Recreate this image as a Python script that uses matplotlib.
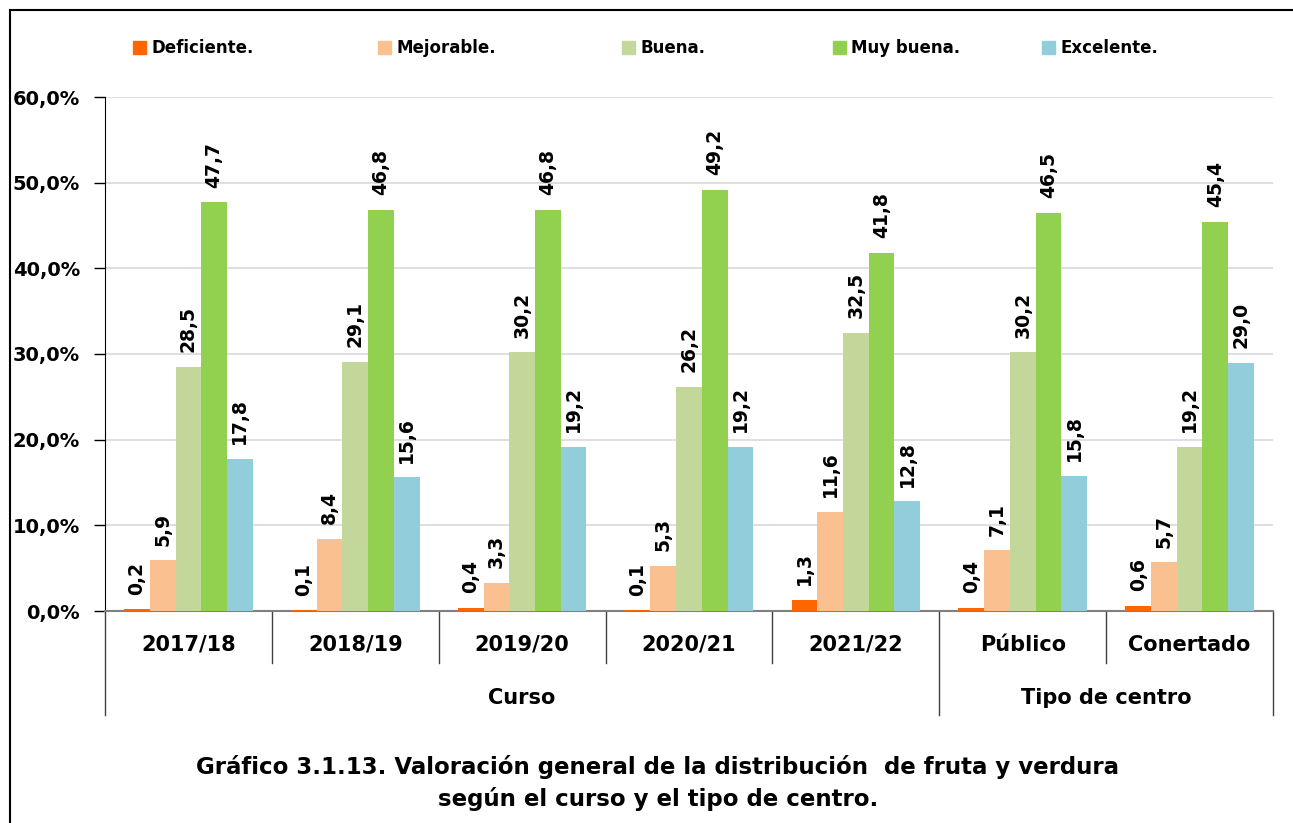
import numpy as np
import matplotlib; matplotlib.use("Agg")
import matplotlib.pyplot as plt
from matplotlib.lines import Line2D
from matplotlib.patches import Patch

categorias = ["2017/18", "2018/19", "2019/20", "2020/21", "2021/22", "Público", "Conertado"]
grupos = ["Curso", "Tipo de centro"]
series = ["Deficiente.", "Mejorable.", "Buena.", "Muy buena.", "Excelente."]
deficiente = [0.2, 0.1, 0.4, 0.1, 1.3, 0.4, 0.6]
mejorable = [5.9, 8.4, 3.3, 5.3, 11.6, 7.1, 5.7]
buena = [28.5, 29.1, 30.2, 26.2, 32.5, 30.2, 19.2]
muy_buena = [47.7, 46.8, 46.8, 49.2, 41.8, 46.5, 45.4]
excelente = [17.8, 15.6, 19.2, 19.2, 12.8, 15.8, 29.0]
yticks = [0, 10, 20, 30, 40, 50, 60]
titulo = ("Gráfico 3.1.13. Valoración general de la distribución  de fruta y verdura\n"
          "según el curso y el tipo de centro.")

colores = ["#FF6600", "#FAC090", "#C4D79B", "#92D050", "#92CDDC"]
valores = [deficiente, mejorable, buena, muy_buena, excelente]
ley_x = [133, 378, 622, 833, 1042]   # px, left edge of each legend square

fig = plt.figure(figsize=(12.93, 8.23), dpi=100)
ax = fig.add_axes([105 / 1293, 1 - 611 / 823, (1273 - 105) / 1293, (611 - 97) / 823])

x = np.arange(len(categorias))
w = 0.154
for i, (nom, vals, c) in enumerate(zip(series, valores, colores)):
    bars = ax.bar(x + (i - 2) * w, vals, w, color=c, label=nom, zorder=3)
    for b, v in zip(bars, vals):
        ax.annotate(f"{v:.1f}".replace(".", ","), (b.get_x() + b.get_width() / 2, v),
                    xytext=(0, 10.5), textcoords="offset points", rotation=90,
                    ha="center", va="bottom", fontsize=13.5, fontweight="bold")

ax.set_xlim(-0.5, len(categorias) - 0.5)
ax.set_ylim(0, 60)
ax.set_yticks(yticks)
ax.set_yticklabels([f"{t:.1f}".replace(".", ",") + "%" for t in yticks], fontsize=14, fontweight="bold")
ax.tick_params(axis="y", direction="out", length=8, width=1, pad=10)
ax.set_xticks([])
ax.grid(axis="y", color="#D9D9D9", lw=1.2, zorder=0)
for s in ["top", "right"]:
    ax.spines[s].set_visible(False)
ax.spines["left"].set_color("black")
ax.spines["bottom"].set_color("#808080")
ax.spines["bottom"].set_linewidth(1.5)

tr = ax.get_xaxis_transform()
for b in np.arange(-0.5, len(categorias)):
    largo = b in (-0.5, 4.5, 6.5)
    ax.plot([b, b], [0, -0.202 if largo else -0.101], transform=tr, color="#404040",
            lw=1, clip_on=False)
for xi, cat in zip(x, categorias):
    ax.text(xi, -0.066, cat, transform=tr, ha="center", va="center",
            fontsize=15, fontweight="bold")
ax.text(2, -0.169, grupos[0], transform=tr, ha="center", va="center",
        fontsize=15, fontweight="bold")
ax.text(5.5, -0.169, grupos[1], transform=tr, ha="center", va="center",
        fontsize=15, fontweight="bold")

for nom, c, lx in zip(series, colores, ley_x):
    fig.legend(handles=[Patch(color=c, label=nom)], loc="center left",
               bbox_to_anchor=(lx / 1293, 1 - 48 / 823), frameon=False, borderpad=0,
               borderaxespad=0, prop={"weight": "bold", "size": 12}, handlelength=0.8,
               handleheight=0.8, handletextpad=0.3)

fig.text(658 / 1293, 1 - 783 / 823, titulo, ha="center", va="center", fontsize=16.5,
         fontweight="bold", linespacing=1.4)

fig.add_artist(Line2D([10 / 1293, 10 / 1293], [0, 1 - 10 / 823], color="black", lw=1.5))
fig.add_artist(Line2D([10 / 1293, 1], [1 - 10 / 823, 1 - 10 / 823], color="black", lw=1.5))

fig.savefig("out.png", dpi=100, facecolor="white")
